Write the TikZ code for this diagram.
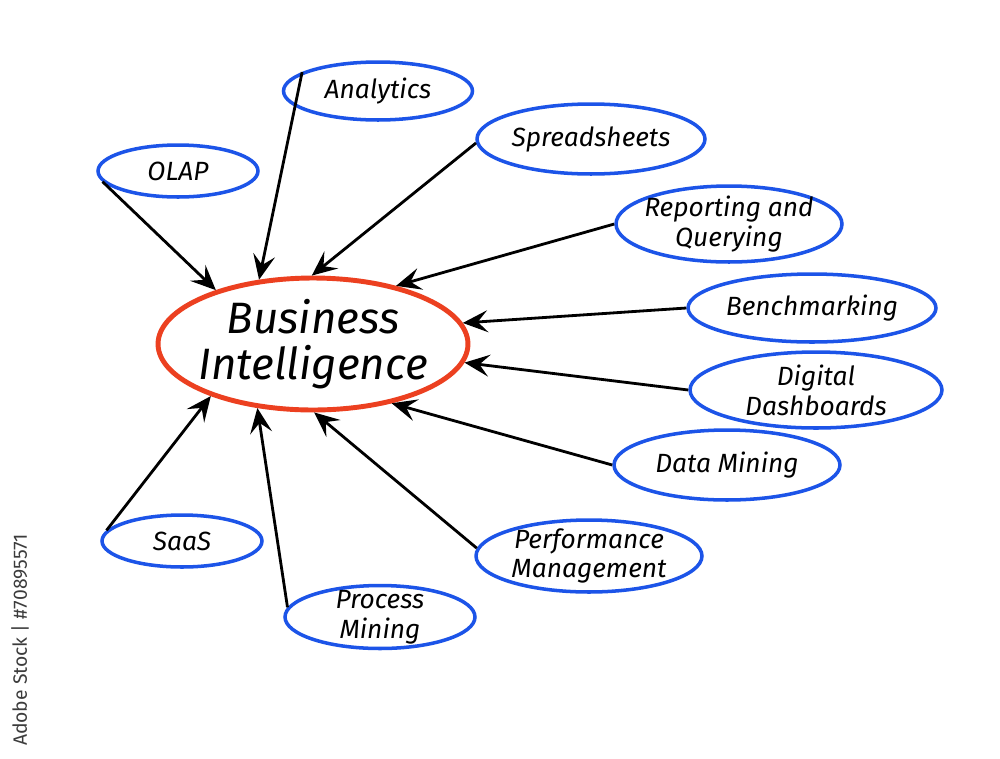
\documentclass[tikz,border=0pt]{standalone}
\usepackage{fontspec}
\setmainfont{Fira Sans}
\usetikzlibrary{arrows.meta,shapes.geometric}
\definecolor{bired}{RGB}{236,64,32}
\definecolor{biblue}{RGB}{28,84,232}
\definecolor{bigrey}{RGB}{60,60,60}
\tikzset{
  hub/.style={ellipse, draw=bired, line width=2.8pt, inner sep=0pt,
              minimum width=6.2cm, minimum height=2.64cm},
  leaf/.style={ellipse, draw=biblue, line width=2pt, inner sep=0pt},
  txt/.style={align=center, font=\itshape\fontsize{15}{17}\selectfont},
  bigtxt/.style={align=center, font=\itshape\fontsize{25}{26}\selectfont},
  arr/.style={-{Stealth[length=5mm,width=4.4mm,inset=2mm]}, line width=1.6pt, draw=black}
}

\begin{document}
\begin{tikzpicture}[x=0.02cm, y=-0.02cm]
  \fill[white] (0,0) rectangle (1000,758);
  \useasboundingbox (0,0) rectangle (1000,758);

  \node[hub, label={[bigtxt]center:Business\\Intelligence}] (bi) at (313,344) {};

  \node[leaf, minimum width=3.2cm, minimum height=1.04cm, label={[txt]center:OLAP}] (olap) at (178,171) {};
  \node[leaf, minimum width=3.78cm, minimum height=1.16cm, label={[txt]center:Analytics}] (analytics) at (378,91) {};
  \node[leaf, minimum width=4.56cm, minimum height=1.4cm, label={[txt]center:Spreadsheets}] (sheets) at (591,139) {};
  \node[leaf, minimum width=4.52cm, minimum height=1.52cm, label={[txt]center:Reporting and\\Querying}] (report) at (729,224) {};
  \node[leaf, minimum width=4.96cm, minimum height=1.36cm, label={[txt]center:Benchmarking}] (bench) at (812,308) {};
  \node[leaf, minimum width=5.04cm, minimum height=1.52cm, label={[txt]center:Digital\\Dashboards}] (dash) at (816,390) {};
  \node[leaf, minimum width=4.52cm, minimum height=1.4cm, label={[txt]center:Data Mining}] (mining) at (727,465) {};
  \node[leaf, minimum width=4.52cm, minimum height=1.44cm, label={[txt]center:Performance\\Management}] (perf) at (589,556) {};
  \node[leaf, minimum width=3.2cm, minimum height=1.04cm, label={[txt]center:SaaS}] (saas) at (182,541) {};
  \node[leaf, minimum width=3.8cm, minimum height=1.26cm, label={[txt]center:Process\\Mining}] (process) at (380,617) {};

  \draw[arr] (olap.188) -- (bi.151);
  \draw[arr] (analytics.166) -- (bi.130);
  \draw[arr] (sheets.182) -- (bi.91);
  \draw[arr] (report.west) -- (bi.35);
  \draw[arr] (bench.west) -- (bi.8);
  \draw[arr] (dash.west) -- (bi.-7.5);
  \draw[arr] (mining.west) -- (bi.-37);
  \draw[arr] (perf.176) -- (bi.-89);
  \draw[arr] (saas.172) -- (bi.207);
  \draw[arr] (process.174) -- (bi.229);

  \node[rotate=90, text=bigrey, font=\fontsize{11}{13}\selectfont] (stock) at (20,640) {Adobe Stock | \#70895571};
\end{tikzpicture}
\end{document}
